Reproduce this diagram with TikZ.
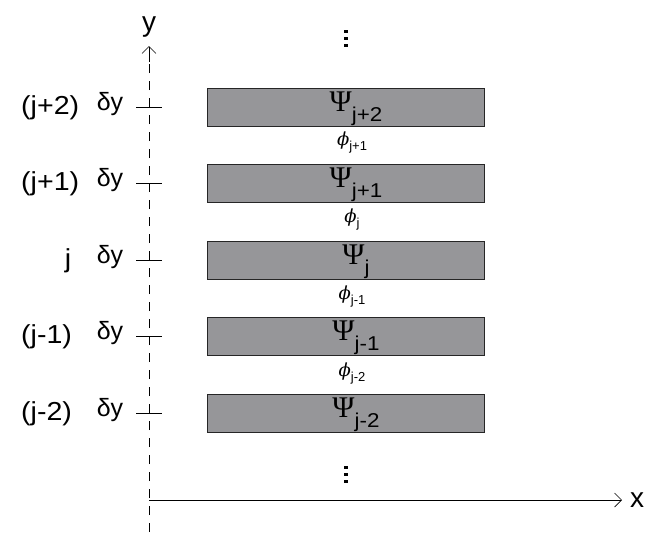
\documentclass[tikz,border=0pt]{standalone}
\usepackage{fontspec}
\usepackage{graphicx}
\setmainfont{Liberation Sans}
\newfontfamily\serifpsi{Liberation Serif}
\newfontfamily\phifont{DejaVu Serif}
\usetikzlibrary{arrows.meta}
\definecolor{layergray}{RGB}{150,150,153}
\tikzset{
  layer/.style={draw=black!85, fill=layergray, line width=0.9pt, minimum width=277pt, minimum height=38pt, inner sep=0pt},
  axis/.style={line width=0.7pt, -{Straight Barb[length=7pt,width=14pt]}},
  tick/.style={line width=0.8pt},
  axlbl/.style={font=\fontsize{28}{28}\selectfont, inner sep=0pt},
  lbl/.style={font=\fontsize{26}{26}\selectfont, inner sep=0pt},
  dlt/.style={font=\fontsize{25}{25}\selectfont, inner sep=0pt, anchor=base},
  psi/.style={inner sep=0pt, anchor=base},
  phi/.style={inner sep=0pt, anchor=base},
}
\newcommand{\Psisub}[1]{{\fontsize{30}{30}\selectfont\serifpsi Ψ}\raisebox{-10pt}{\fontsize{20}{20}\selectfont\scalebox{1.12}[1]{#1}}}
\newcommand{\phisub}[1]{{\fontsize{18}{18}\selectfont\phifont\itshape ϕ}\raisebox{-5pt}{\fontsize{13}{13}\selectfont #1}}
\newcommand{\rowlab}[1]{\scalebox{1.1}[1]{#1}}
\begin{document}
\begin{tikzpicture}[x=1pt,y=-1pt]
\useasboundingbox (0,0) rectangle (667,552);
% axes
\coordinate (ybot) at (149,532);
\coordinate (ytop) at (149,46);
\coordinate (ymid) at (149,60);
\coordinate (ystart) at (149,62);
\coordinate (xo) at (149,500);
\coordinate (xe) at (622,500);
\draw[line width=0.7pt, dash pattern=on 9pt off 8pt] (ybot) -- (ymid);
\draw[axis] (ystart) -- (ytop);
\draw[axis] (xo) -- (xe);
\node[axlbl] (ylab) at (149,27) {y};
\node[axlbl] (xlab) at (637,500) {x};
% layers
\foreach \n/\yy/\lab in {a/107/j+2, b/183/j+1, c/260/j, d/336/j-1, e/413/j-2}{
  \node[layer] (L\n) at (345.5,\yy) {};
  \node[psi] (P\n) at (356,\yy+4) {\Psisub{\lab}};
  \draw[tick] (136,\yy) -- (162,\yy);
  \node[dlt] (D\n) at (110,\yy+3) {δy};
}
\foreach \n/\yy/\rl in {a/107/(j+2), b/183/(j+1), d/336/(j-1), e/413/(j-2)}{
  \node[lbl, anchor=base west] (R\n) at (21,\yy+7) {\rowlab{\rl}};
}
\node[lbl, anchor=base] (Rc) at (68,267) {\rowlab{j}};
\foreach \n/\yy/\lab in {f1/145/j+1, f2/222/j, f3/299/j-1, f4/376/j-2}{
  \node[phi] (\n) at (352,\yy) {\phisub{\lab}};
}
% dots
\foreach \yy in {30,37,44}{\fill (344,\yy) rectangle (348,\yy+3);}
\foreach \yy in {466,473,480}{\fill (344,\yy) rectangle (348,\yy+3);}
\end{tikzpicture}
\end{document}
